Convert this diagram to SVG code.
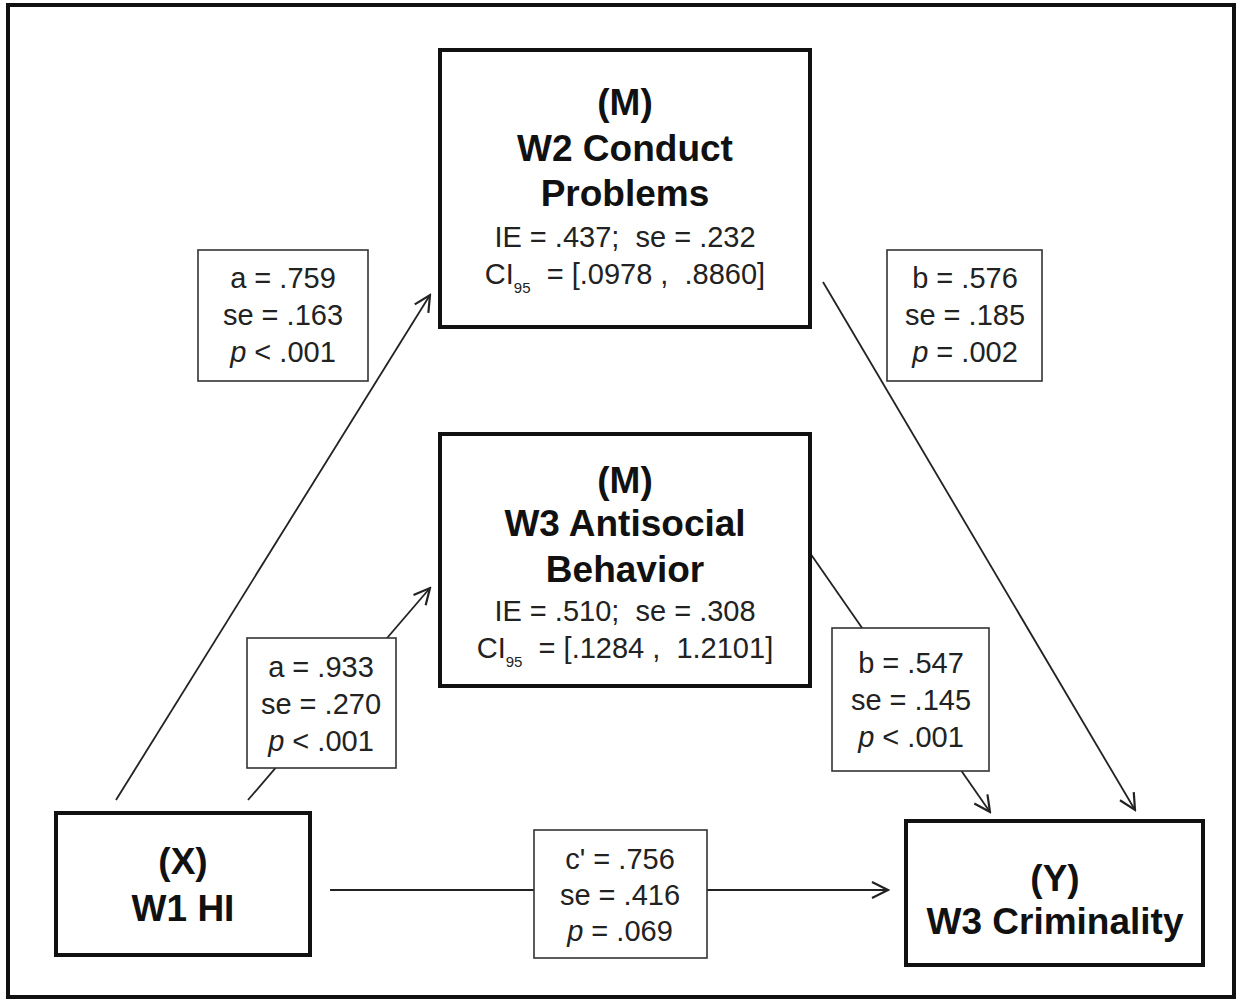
<svg xmlns="http://www.w3.org/2000/svg" width="1241" height="1003" viewBox="0 0 1241 1003">
<defs>
<marker id="arr" viewBox="0 0 20 20" refX="18" refY="10" markerWidth="20" markerHeight="20" markerUnits="userSpaceOnUse" orient="auto">
<path d="M2,2 L18,10 L2,18" fill="none" stroke="#222" stroke-width="2.2"/>
</marker>
<style>
.node{fill:#fff;stroke:#111;stroke-width:4}
.lab{fill:#fff;stroke:#333;stroke-width:1.6}
.t{font-family:"Liberation Sans",Arial,sans-serif;font-weight:bold;font-size:37px;fill:#111;text-anchor:middle}
.s{font-family:"Liberation Sans",Arial,sans-serif;font-size:29px;fill:#222;text-anchor:middle}
.c{fill:none;stroke:#222;stroke-width:1.8}
</style>
</defs>
<rect x="0" y="0" width="1241" height="1003" fill="#fff"/>
<rect x="8" y="5" width="1226" height="992" fill="none" stroke="#111" stroke-width="4"/>
<g id="connectors">
<line class="c" x1="116" y1="800" x2="430" y2="295" marker-end="url(#arr)"/>
<line class="c" x1="248" y1="800" x2="430" y2="588" marker-end="url(#arr)"/>
<line class="c" x1="823" y1="282" x2="1135" y2="810" marker-end="url(#arr)"/>
<line class="c" x1="810" y1="553" x2="990" y2="812" marker-end="url(#arr)"/>
<line class="c" x1="330" y1="890" x2="888" y2="890" marker-end="url(#arr)"/>
</g>
<g id="m1">
<rect class="node" x="440" y="50" width="370" height="277"/>
<text class="t" x="625" y="115">(M)</text>
<text class="t" x="625" y="161">W2 Conduct</text>
<text class="t" x="625" y="206">Problems</text>
<text class="s" x="625" y="247" xml:space="preserve">IE = .437;  se = .232</text>
<text class="s" x="625" y="284" xml:space="preserve">CI<tspan font-size="15" dy="9">95</tspan><tspan dy="-9">  = [.0978 ,  .8860]</tspan></text>
</g>
<g id="m2">
<rect class="node" x="440" y="434" width="370" height="252"/>
<text class="t" x="625" y="493">(M)</text>
<text class="t" x="625" y="536">W3 Antisocial</text>
<text class="t" x="625" y="582">Behavior</text>
<text class="s" x="625" y="621" xml:space="preserve">IE = .510;  se = .308</text>
<text class="s" x="625" y="658" xml:space="preserve">CI<tspan font-size="15" dy="9">95</tspan><tspan dy="-9">  = [.1284 ,  1.2101]</tspan></text>
</g>
<g id="x">
<rect class="node" x="56" y="813" width="254" height="142"/>
<text class="t" x="183" y="874">(X)</text>
<text class="t" x="183" y="921">W1 HI</text>
</g>
<g id="y">
<rect class="node" x="906" y="821" width="297" height="144"/>
<text class="t" x="1055" y="891">(Y)</text>
<text class="t" x="1055" y="934">W3 Criminality</text>
</g>
<g id="label-a1">
<rect class="lab" x="198" y="250" width="170" height="131"/>
<text class="s" x="283" y="288">a = .759</text>
<text class="s" x="283" y="325">se = .163</text>
<text class="s" x="283" y="362"><tspan font-style="italic">p</tspan> &lt; .001</text>
</g>
<g id="label-b1">
<rect class="lab" x="887" y="250" width="155" height="131"/>
<text class="s" x="965" y="288">b = .576</text>
<text class="s" x="965" y="325">se = .185</text>
<text class="s" x="965" y="362"><tspan font-style="italic">p</tspan> = .002</text>
</g>
<g id="label-a2">
<rect class="lab" x="247" y="638" width="149" height="130"/>
<text class="s" x="321" y="677">a = .933</text>
<text class="s" x="321" y="714">se = .270</text>
<text class="s" x="321" y="751"><tspan font-style="italic">p</tspan> &lt; .001</text>
</g>
<g id="label-b2">
<rect class="lab" x="832" y="628" width="157" height="143"/>
<text class="s" x="911" y="673">b = .547</text>
<text class="s" x="911" y="710">se = .145</text>
<text class="s" x="911" y="747"><tspan font-style="italic">p</tspan> &lt; .001</text>
</g>
<g id="label-c">
<rect class="lab" x="534" y="830" width="173" height="128"/>
<text class="s" x="620" y="869">c' = .756</text>
<text class="s" x="620" y="905">se = .416</text>
<text class="s" x="620" y="941"><tspan font-style="italic">p</tspan> = .069</text>
</g>
</svg>
